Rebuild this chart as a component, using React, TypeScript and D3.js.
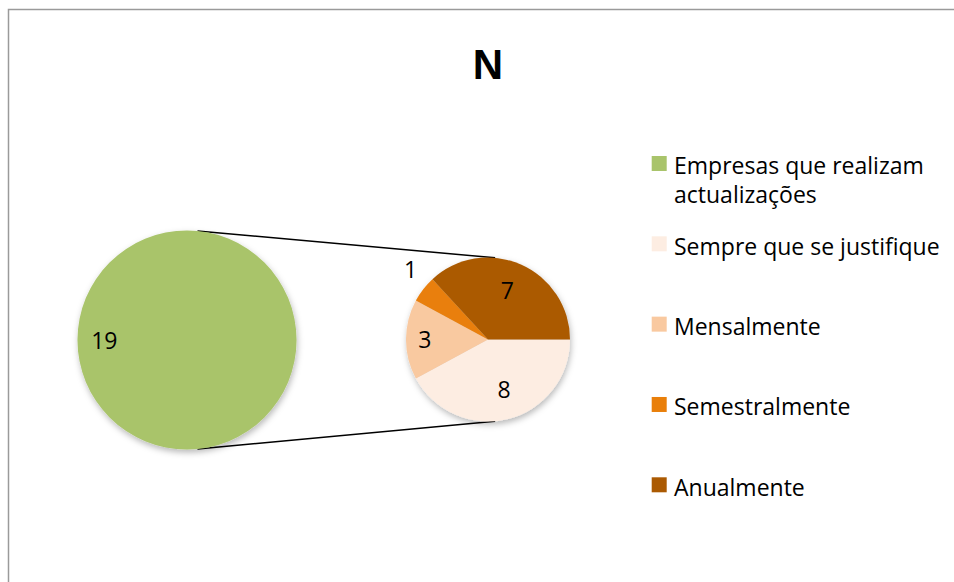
import React from "react";
import * as d3 from "d3";

const title = "N";
const mainValue = 19;
const subCategories = ["Sempre que se justifique", "Mensalmente", "Semestralmente", "Anualmente"];
const subValues = [8, 3, 1, 7];
const legendLabels = [["Empresas que realizam", "actualizações"], ["Sempre que se justifique"], ["Mensalmente"], ["Semestralmente"], ["Anualmente"]];
const mainColor = "#A9C46B";
const subColors = ["#FDEDE2", "#F9C9A0", "#E97F0A", "#AB5A02"];
const labelRadiusFactors = [0.65, 0.77, 1.27, 0.64];
const labelAngleShift = [-3.4, 0, 4, -2];

export default function App() {
  const W = 954, H = 582;
  const main = { cx: 187, cy: 340, r: 109.5 };
  const sub = { cx: 488, cy: 339.5, r: 82 };

  const pie = d3.pie<number>().sort(null).value((d) => d)
    .startAngle(Math.PI / 2).endAngle(Math.PI / 2 + 2 * Math.PI);
  const subArcs = pie(subValues);
  const arc = d3.arc<d3.PieArcDatum<number>>().innerRadius(0).outerRadius(sub.r);
  const mainArc = d3.arc()({ innerRadius: 0, outerRadius: main.r, startAngle: 0, endAngle: 2 * Math.PI }) as string;

  const a1 = (5.5 * Math.PI) / 180;
  const a2 = (5 * Math.PI) / 180;
  const mTop = [main.cx + main.r * Math.sin(a1), main.cy - main.r * Math.cos(a1)];
  const mBot = [main.cx + main.r * Math.sin(a1), main.cy + main.r * Math.cos(a1)];
  const sTop = [sub.cx + sub.r * Math.sin(a2), sub.cy - sub.r * Math.cos(a2)];
  const sBot = [sub.cx + sub.r * Math.sin(a2), sub.cy + sub.r * Math.cos(a2)];

  const font = "'Open Sans', Lato, sans-serif";
  const fs = 23;
  const legendY = d3.scaleLinear().domain([0, legendLabels.length - 1]).range([156, 477.3]);
  const legendColors = [mainColor, ...subColors];

  return (
    <svg width={W} height={H} style={{ position: "absolute", left: 0, top: 0 }}>
      <defs>
        <filter id="sh" x="-20%" y="-20%" width="140%" height="140%">
          <feDropShadow dx="1" dy="3" stdDeviation="3" floodColor="#000" floodOpacity="0.28" />
        </filter>
      </defs>
      <rect x={0} y={0} width={W} height={H} fill="#fff" />
      <rect x={8.5} y={9.5} width={W + 20} height={H + 20} fill="none" stroke="#9a9a9a" strokeWidth={1.5} />
      <text x={488} y={78.5} textAnchor="middle" fontFamily="'Liberation Sans', Arial, sans-serif" fontWeight="bold" fontSize={42} fill="#000">{title}</text>

      <line x1={mTop[0]} y1={mTop[1]} x2={sTop[0]} y2={sTop[1]} stroke="#000" strokeWidth={1.5} />
      <line x1={mBot[0]} y1={mBot[1]} x2={sBot[0]} y2={sBot[1]} stroke="#000" strokeWidth={1.5} />

      <g transform={`translate(${main.cx},${main.cy})`} filter="url(#sh)">
        <path d={mainArc} fill={mainColor} />
      </g>
      <text x={main.cx - 0.755 * main.r} y={main.cy + 8.5} textAnchor="middle" fontFamily={font} fontSize={fs} fill="#000">{mainValue}</text>

      <g transform={`translate(${sub.cx},${sub.cy})`}>
        <g filter="url(#sh)">
          {subArcs.map((d, i) => (
            <path key={i} d={arc(d) as string} fill={subColors[i]}>
              <title>{subCategories[i]}</title>
            </path>
          ))}
        </g>
        {subArcs.map((d, i) => {
          const m = (d.startAngle + d.endAngle) / 2 + (labelAngleShift[i] * Math.PI) / 180;
          const rr = sub.r * labelRadiusFactors[i];
          return (
            <text key={i} x={rr * Math.sin(m)} y={-rr * Math.cos(m) + 8} textAnchor="middle" fontFamily={font} fontSize={fs} fill="#000">{d.data}</text>
          );
        })}
      </g>

      {legendLabels.map((lines, i) => (
        <g key={i}>
          <rect x={651.7} y={legendY(i)} width={15} height={15} fill={legendColors[i]} />
          {lines.map((l, j) => (
            <text key={j} x={674} y={legendY(i) + 18.3 + j * 29} fontFamily={font} fontSize={fs} fill="#000">{l}</text>
          ))}
        </g>
      ))}
    </svg>
  );
}
